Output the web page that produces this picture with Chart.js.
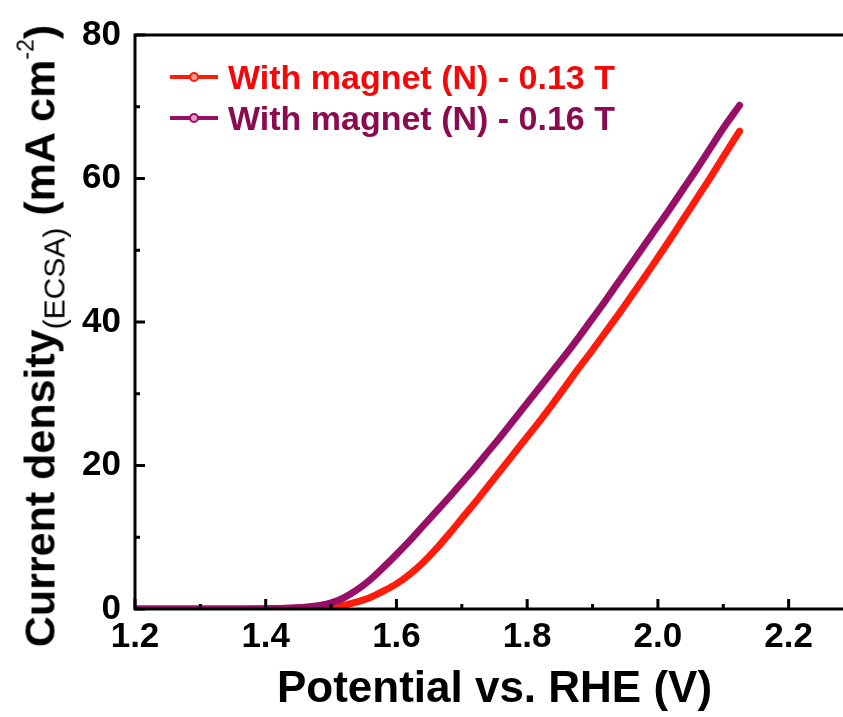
<!DOCTYPE html>
<html>
<head>
<meta charset="utf-8">
<script src="https://cdn.jsdelivr.net/npm/chart.js@4/dist/chart.umd.min.js"></script>
<style>
  html, body { margin: 0; padding: 0; background: #fff; overflow: hidden; width: 843px; height: 717px; }
  #wrap { position: absolute; left: 0; top: 0; width: 860px; height: 717px; }
  #ytitle {
    position: absolute; left: 42px; top: 336px;
    transform: translate(-50%, -50%) rotate(-90deg);
    white-space: nowrap; font-family: 'Liberation Sans', Arial, sans-serif;
    font-weight: bold; font-size: 43px; color: #000; line-height: 1;
  }
  #ytitle sub { font-weight: normal; font-size: 30px; vertical-align: -10px; }
  #ytitle sup { font-weight: normal; font-size: 23px; vertical-align: 21px; }
  .leg { position: absolute; left: 168px; font-family: 'Liberation Sans', Arial, sans-serif;
    font-weight: bold; font-size: 34px; white-space: nowrap; line-height: 1; display: flex; align-items: center; }
  .leg svg { margin-right: 8px; }
</style>
</head>
<body>
<div id="wrap"><canvas id="c" width="860" height="717"></canvas></div>
<div id="ytitle">Current density<sub>(ECSA)</sub> (mA cm<sup>-2</sup>)</div>
<div class="leg" id="leg1" style="top:60px;color:#F20A0A;">
  <svg width="52" height="12"><line x1="2" y1="6" x2="50" y2="6" stroke="#FF1C0D" stroke-width="4"/><circle cx="26" cy="6" r="4" fill="#FF9A8F" stroke="#FF1C0D" stroke-width="2"/></svg>With magnet (N) - 0.13 T</div>
<div class="leg" id="leg2" style="top:101px;color:#8B0A50;">
  <svg width="52" height="12"><line x1="2" y1="6" x2="50" y2="6" stroke="#970F66" stroke-width="4"/><circle cx="26" cy="6" r="4" fill="#E39AC8" stroke="#970F66" stroke-width="2"/></svg>With magnet (N) - 0.16 T</div>
<script>
// ---- data ----
const seriesNames = ['With magnet (N) - 0.13 T', 'With magnet (N) - 0.16 T'];
const potentialRed = [1.20,1.25,1.30,1.35,1.40,1.45,1.48,1.50,1.52,1.54,1.56,1.58,1.60,1.62,1.64,1.66,1.68,1.70,1.72,1.74,1.76,1.78,1.80,1.82,1.84,1.86,1.88,1.90,1.92,1.94,1.96,1.98,2.00,2.02,2.04,2.06,2.08,2.10,2.125];
const currentRed   = [0.0,0.0,0.0,0.0,0.05,0.1,0.15,0.25,0.55,1.0,1.6,2.5,3.5,4.8,6.4,8.3,10.4,12.6,14.8,17.1,19.4,21.7,24.0,26.3,28.7,31.2,33.7,36.1,38.6,41.1,43.7,46.3,49.0,51.7,54.5,57.3,60.1,63.0,66.6];
const potentialPurple = [1.20,1.25,1.30,1.35,1.40,1.44,1.46,1.48,1.50,1.52,1.54,1.56,1.58,1.60,1.62,1.64,1.66,1.68,1.70,1.72,1.74,1.76,1.78,1.80,1.82,1.84,1.86,1.88,1.90,1.92,1.94,1.96,1.98,2.00,2.02,2.04,2.06,2.08,2.10,2.125];
const currentPurple   = [0.0,0.0,0.0,0.0,0.05,0.15,0.25,0.45,0.85,1.6,2.7,4.1,5.8,7.6,9.5,11.5,13.5,15.5,17.6,19.7,21.9,24.1,26.4,28.7,31.0,33.3,35.6,38.0,40.5,43.0,45.6,48.2,50.8,53.4,56.0,58.7,61.4,64.2,67.0,70.2];
const xMajorTicks = [1.2,1.4,1.6,1.8,2.0,2.2];
const xMinorTicks = [1.3,1.5,1.7,1.9,2.1];
const yMajorTicks = [0,20,40,60,80];
const yMinorTicks = [10,30,50,70];
const xTitle = 'Potential vs. RHE (V)';

const FONT = "'Liberation Sans', Arial, sans-serif";
const toXY = (xs, ys) => xs.map((x, i) => ({x: x, y: ys[i]}));

const frame = {
  id: 'frame',
  afterDatasetsDraw(chart) {
    const {ctx, chartArea: a, scales: {x, y}} = chart;
    ctx.save();
    ctx.strokeStyle = '#000';
    ctx.lineWidth = 3;
    ctx.beginPath();
    ctx.rect(a.left, a.top, a.right - a.left, a.bottom - a.top);
    ctx.stroke();
    ctx.beginPath();
    xMajorTicks.forEach(v => { const p = x.getPixelForValue(v); ctx.moveTo(p, a.bottom); ctx.lineTo(p, a.bottom - 10); });
    xMinorTicks.forEach(v => { const p = x.getPixelForValue(v); ctx.moveTo(p, a.bottom); ctx.lineTo(p, a.bottom - 5); });
    yMajorTicks.forEach(v => { const p = y.getPixelForValue(v); ctx.moveTo(a.left, p); ctx.lineTo(a.left + 10, p); });
    yMinorTicks.forEach(v => { const p = y.getPixelForValue(v); ctx.moveTo(a.left, p); ctx.lineTo(a.left + 5, p); });
    ctx.stroke();
    ctx.restore();
  }
};

new Chart(document.getElementById('c'), {
  type: 'line',
  data: {
    datasets: [
      { label: seriesNames[0], data: toXY(potentialRed, currentRed), borderColor: '#FF1C0D', backgroundColor: '#FF1C0D',
        borderWidth: 7, pointRadius: 0, cubicInterpolationMode: 'monotone', borderCapStyle: 'round', order: 1 },
      { label: seriesNames[1], data: toXY(potentialPurple, currentPurple), borderColor: '#970F66', backgroundColor: '#970F66',
        borderWidth: 7, pointRadius: 0, cubicInterpolationMode: 'monotone', borderCapStyle: 'round', order: 0 }
    ]
  },
  options: {
    responsive: false,
    animation: false,
    layout: { padding: { top: 30, right: 6, left: 0, bottom: 0 } },
    plugins: { legend: { display: false }, tooltip: { enabled: false } },
    scales: {
      x: {
        type: 'linear', min: 1.2, max: 2.3,
        afterBuildTicks: s => { s.ticks = xMajorTicks.map(v => ({value: v})); },
        afterFit: s => { s.height = 108; },
        grid: { display: false, drawTicks: false },
        border: { display: false },
        ticks: { color: '#000', padding: 7, font: { family: FONT, weight: 'bold', size: 35 },
                 callback: v => Number(v).toFixed(1), maxRotation: 0, autoSkip: false },
        title: { display: true, text: xTitle, color: '#000', font: { family: FONT, weight: 'bold', size: 44 },
                 padding: { top: 0, bottom: 1 } }
      },
      y: {
        type: 'linear', min: 0, max: 80,
        afterBuildTicks: s => { s.ticks = yMajorTicks.map(v => ({value: v})); },
        afterFit: s => { s.width = 135; },
        grid: { display: false, drawTicks: false },
        border: { display: false },
        ticks: { color: '#000', padding: 14, font: { family: FONT, weight: 'bold', size: 35 } }
      }
    }
  },
  plugins: [frame]
});
</script>
</body>
</html>
